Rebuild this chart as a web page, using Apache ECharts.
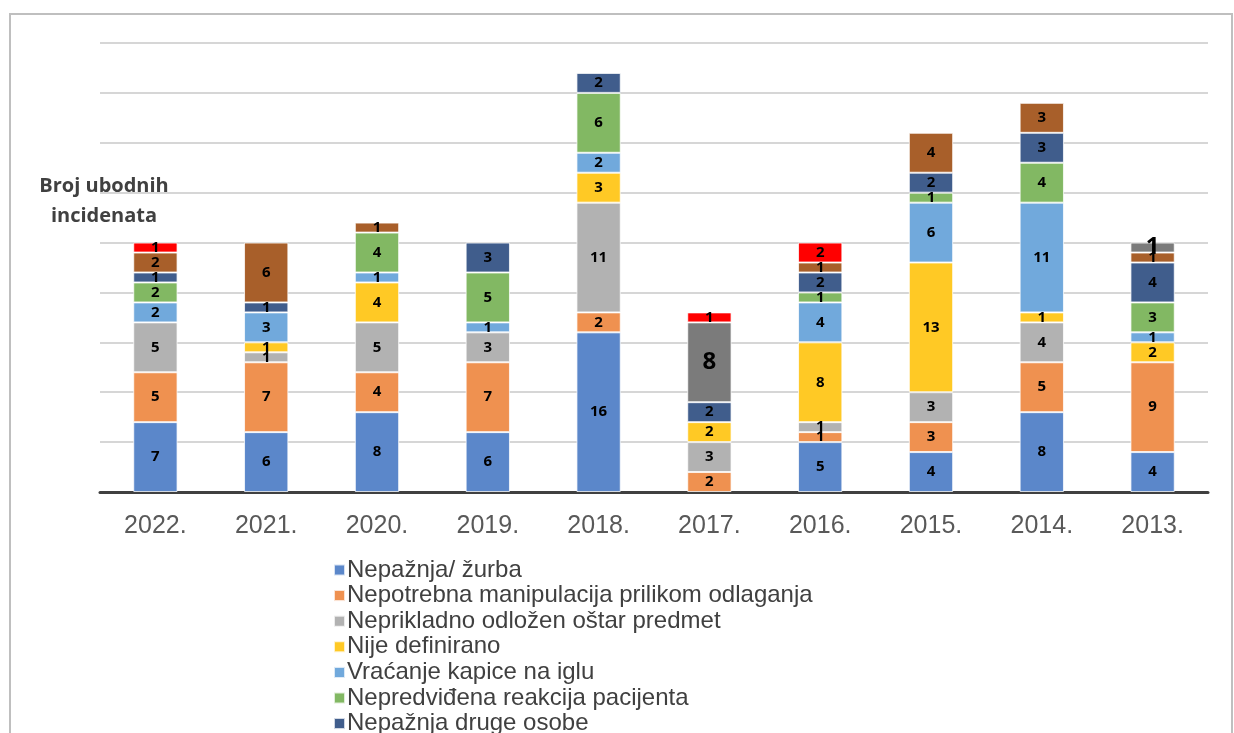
<!DOCTYPE html>
<html>
<head>
<meta charset="utf-8">
<script src="https://cdn.jsdelivr.net/npm/echarts@6/dist/echarts.min.js"></script>
<style>
html, body {margin: 0; padding: 0; background: #fff;}
#chart {width: 1234px; height: 733px;}
</style>
</head>
<body>
<div id="chart"></div>
<script>
const years = ['2022.', '2021.', '2020.', '2019.', '2018.', '2017.', '2016.', '2015.', '2014.', '2013.'];

const nepaznjaZurba = [7, 6, 8, 6, 16, 0, 5, 4, 8, 4];
const nepotrebnaManipulacija = [5, 7, 4, 7, 2, 2, 1, 3, 5, 9];
const neprikladnoOdlozen = [5, 1, 5, 3, 11, 3, 1, 3, 4, 0];
const nijeDefinirano = [0, 1, 4, 0, 3, 2, 8, 13, 1, 2];
const vracanjeKapice = [2, 3, 1, 1, 2, 0, 4, 6, 11, 1];
const nepredvidenaReakcija = [2, 0, 4, 5, 6, 0, 1, 1, 4, 3];
const nepaznjaDrugeOsobe = [1, 1, 0, 3, 2, 2, 2, 2, 3, 4];
const ostalo1 = [2, 6, 1, 0, 0, 0, 1, 4, 3, 1];
const ostalo2 = [0, 0, 0, 0, 0, 8, 0, 0, 0, 1];
const ostalo3 = [1, 0, 0, 0, 0, 1, 2, 0, 0, 0];

const seriesDefs = [
    {name: 'Nepažnja/ žurba', data: nepaznjaZurba, color: '#5B87CA'},
    {name: 'Nepotrebna manipulacija prilikom odlaganja', data: nepotrebnaManipulacija, color: '#EF9150'},
    {name: 'Neprikladno odložen oštar predmet', data: neprikladnoOdlozen, color: '#B2B2B2'},
    {name: 'Nije definirano', data: nijeDefinirano, color: '#FFC925'},
    {name: 'Vraćanje kapice na iglu', data: vracanjeKapice, color: '#71A9DC'},
    {name: 'Nepredviđena reakcija pacijenta', data: nepredvidenaReakcija, color: '#82B863'},
    {name: 'Nepažnja druge osobe', data: nepaznjaDrugeOsobe, color: '#405D8C'},
    {name: 'Ostalo 1', data: ostalo1, color: '#A85F2A'},
    {name: 'Ostalo 2', data: ostalo2, color: '#7B7B7B', big: true},
    {name: 'Ostalo 3', data: ostalo3, color: '#FF0000'}
];

const chart = echarts.init(document.getElementById('chart'));
chart.setOption({
    animation: false,
    backgroundColor: '#fff',
    graphic: [
        {
            type: 'rect',
            shape: {x: 10, y: 14, width: 1222, height: 800},
            style: {fill: 'none', stroke: '#BFBFBF', lineWidth: 2},
            z: -1
        },
        {
            type: 'text',
            x: 104,
            y: 171,
            style: {
                text: 'Broj ubodnih\nincidenata',
                textAlign: 'center',
                fontSize: 20,
                fontWeight: 'bold',
                fontFamily: 'Open Sans',
                lineHeight: 30,
                fill: '#404040'
            }
        }
    ],
    legend: {
        orient: 'vertical',
        left: 328,
        top: 553,
        height: 600,
        itemWidth: 11,
        itemHeight: 11,
        itemGap: 1.6,
        icon: 'rect',
        data: seriesDefs.slice(0, 7).map(s => s.name),
        textStyle: {fontSize: 24, lineHeight: 20, fontFamily: 'Liberation Sans', color: '#404040', padding: [0, 0, 0, -3]}
    },
    grid: {left: 100, right: 26, top: 43, bottom: 241},
    xAxis: {
        type: 'category',
        data: years,
        axisLine: {lineStyle: {color: '#404040', width: 3}},
        axisTick: {show: false},
        axisLabel: {fontSize: 25, fontFamily: 'Liberation Sans', color: '#595959', margin: 22}
    },
    yAxis: {
        type: 'value',
        min: 0,
        max: 45,
        interval: 5,
        axisLabel: {show: false},
        axisLine: {show: false},
        axisTick: {show: false},
        splitLine: {lineStyle: {color: '#C8C8C8', width: 1.5}}
    },
    series: seriesDefs.map(s => ({
        name: s.name,
        type: 'bar',
        stack: 'total',
        barWidth: '40%',
        data: s.data.map(v => (v === 0 ? '-' : v)),
        itemStyle: {color: s.color, borderColor: 'rgba(255,255,255,0.75)', borderWidth: 1},
        label: {
            show: true,
            position: 'inside',
            color: '#000',
            fontWeight: 'bold',
            fontFamily: 'Noto Sans',
            fontSize: s.big ? 24 : 15
        }
    }))
});
</script>
</body>
</html>
